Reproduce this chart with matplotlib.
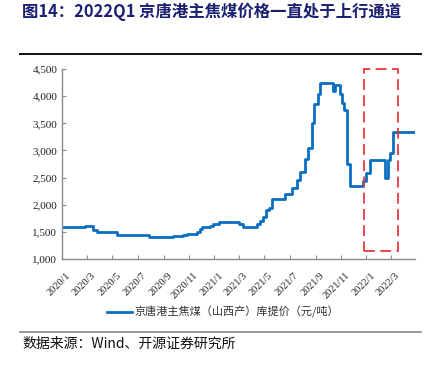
import matplotlib
matplotlib.use("Agg")
import matplotlib.pyplot as plt
import matplotlib.dates as mdates
import matplotlib.transforms as mtransforms
from matplotlib.patches import Rectangle
from matplotlib.ticker import FuncFormatter
import pandas as pd

# step points of the price series (date, yuan/ton)
dates = ["2020-01-01", "2020-02-25", "2020-03-16", "2020-03-25", "2020-05-13",
         "2020-07-29", "2020-09-23", "2020-10-18", "2020-10-27", "2020-11-20",
         "2020-11-28", "2020-12-02", "2020-12-22", "2020-12-29", "2021-01-12",
         "2021-03-02", "2021-03-11", "2021-04-13", "2021-04-21", "2021-04-27",
         "2021-05-05", "2021-05-13", "2021-05-19", "2021-06-20", "2021-07-06",
         "2021-07-19", "2021-07-25", "2021-08-07", "2021-08-13", "2021-08-23",
         "2021-08-29", "2021-09-06", "2021-09-12", "2021-10-12", "2021-10-18",
         "2021-10-30", "2021-11-03", "2021-11-09", "2021-11-15", "2021-11-24",
         "2021-12-24", "2022-01-01", "2022-01-09", "2022-02-14", "2022-02-22",
         "2022-02-27", "2022-03-06", "2022-04-28"]
prices = [1585, 1615, 1535, 1500, 1445,
          1410, 1425, 1440, 1465, 1500,
          1550, 1590, 1610, 1645, 1690,
          1640, 1595, 1645, 1705, 1768,
          1900, 1933, 2100, 2190, 2300,
          2455, 2600, 2835, 3040, 3500,
          3860, 4040, 4250, 4100, 4205,
          4040, 3870, 3745, 2750, 2345,
          2440, 2590, 2825, 2485, 2825,
          2945, 3345, 3345]

tick_dates = pd.date_range("2020-01-01", "2022-03-01", freq="2MS")
tick_labels = [f"{d.year}/{d.month}" for d in tick_dates]
y_ticks = [1000, 1500, 2000, 2500, 3000, 3500, 4000, 4500]

box_start, box_end = "2021-12-27", "2022-03-19"
box_low, box_high = 1150, 4500

title = "图14：2022Q1 京唐港主焦煤价格一直处于上行通道"
series_name = "京唐港主焦煤（山西产）库提价（元/吨）"
source = "数据来源：Wind、开源证券研究所"

cjk = ["Noto Sans CJK SC", "DejaVu Sans"]
serif = ["Liberation Serif", "DejaVu Serif"]

x = pd.to_datetime(dates)

fig = plt.figure(figsize=(4.41, 3.65), dpi=100)
ax = fig.add_axes([0.1406, 0.2904, 0.8005, 0.5205])

ax.plot(x, prices, drawstyle="steps-post", color="#0b6fc1", linewidth=2.0,
        label=series_name)

b0, b1 = mdates.date2num(pd.Timestamp(box_start)), mdates.date2num(pd.Timestamp(box_end))
ax.add_patch(Rectangle((b0, box_low), b1 - b0, box_high - box_low, fill=False,
                       edgecolor="#e8383d", linestyle=(0, (6, 3)), linewidth=1.3,
                       clip_on=False, zorder=3))

ax.set_xlim(pd.Timestamp("2020-01-01"), pd.Timestamp("2022-04-28"))
ax.set_ylim(1000, 4500)
ax.set_yticks(y_ticks)
ax.yaxis.set_major_formatter(FuncFormatter(lambda v, p: f"{int(v):,}"))
ax.set_xticks(tick_dates)
ax.set_xticklabels(tick_labels, rotation=45, ha="right", rotation_mode="anchor")

for s in ["top", "right"]:
    ax.spines[s].set_visible(False)
for s in ["left", "bottom"]:
    ax.spines[s].set_color("#8c8c8c")
    ax.spines[s].set_linewidth(1.0)
ax.tick_params(direction="in", length=3, color="#8c8c8c", width=0.8)

# nudge rotated date labels down/right like the original
shift = mtransforms.ScaledTranslation(4 / 100, -7 / 100, fig.dpi_scale_trans)
for lab in ax.get_xticklabels():
    lab.set_transform(lab.get_transform() + shift)
    lab.set_fontsize(7.5)
for lab in ax.get_yticklabels():
    lab.set_fontsize(8)
for lab in ax.get_xticklabels() + ax.get_yticklabels():
    lab.set_family(serif)
    lab.set_color("#222222")

leg = fig.legend(loc="center", bbox_to_anchor=(0.505, 0.145), frameon=False,
                 prop={"family": cjk, "size": 8}, handlelength=2.3,
                 handletextpad=0.2)
for t in leg.get_texts():
    t.set_color("#333333")

fig.text(0.05, 0.967, title, family=cjk, fontsize=11.8, weight="bold",
         color="#1b2070", va="center", ha="left")
fig.add_artist(plt.Line2D([0.045, 0.955], [0.852, 0.852], color="#111111",
                          linewidth=1.4))
fig.add_artist(plt.Line2D([0.045, 0.955], [0.091, 0.091], color="#888888",
                          linewidth=1.2))
fig.text(0.05, 0.057, source, family=cjk, fontsize=10, color="#111111",
         va="center", ha="left")

fig.savefig("out.png", dpi=100)
